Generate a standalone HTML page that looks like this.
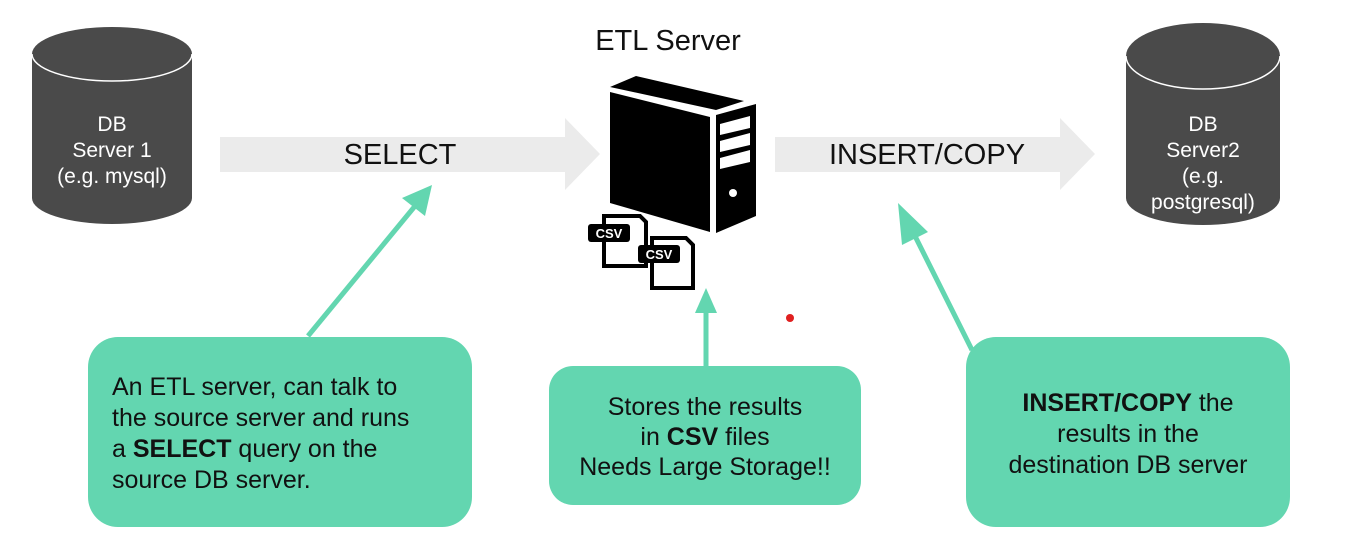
<!DOCTYPE html>
<html><head><meta charset="utf-8"><style>
html,body{margin:0;padding:0;background:#fff;}
svg{display:block;}
text{font-family:"Liberation Sans",sans-serif;}
</style></head><body>
<svg width="1348" height="556" viewBox="0 0 1348 556" xmlns="http://www.w3.org/2000/svg">
<!-- DB1 -->
<path d="M32 54 L32 198 A80 26 0 0 0 192 198 L192 54 Z" fill="#4a4a4a"/>
<ellipse cx="112" cy="54" rx="80" ry="27" fill="#4a4a4a"/>
<path d="M32 54 A80 27 0 0 0 192 54" fill="none" stroke="#fff" stroke-width="1.5"/>
<text x="112" y="131" font-size="21" fill="#fff" text-anchor="middle">DB</text>
<text x="112" y="157" font-size="21" fill="#fff" text-anchor="middle">Server 1</text>
<text x="112" y="183" font-size="21" fill="#fff" text-anchor="middle">(e.g. mysql)</text>
<!-- DB2 -->
<path d="M1126 56 L1126 198 A77 27 0 0 0 1280 198 L1280 56 Z" fill="#4a4a4a"/>
<ellipse cx="1203" cy="56" rx="77" ry="33" fill="#4a4a4a"/>
<path d="M1126 56 A77 33 0 0 0 1280 56" fill="none" stroke="#fff" stroke-width="1.5"/>
<text x="1203" y="131" font-size="21" fill="#fff" text-anchor="middle">DB</text>
<text x="1203" y="157" font-size="21" fill="#fff" text-anchor="middle">Server2</text>
<text x="1203" y="183" font-size="21" fill="#fff" text-anchor="middle">(e.g.</text>
<text x="1203" y="209" font-size="21" fill="#fff" text-anchor="middle">postgresql)</text>
<!-- gray arrows -->
<polygon points="220,137 565,137 565,118 600,154 565,190 565,172 220,172" fill="#ebebeb"/>
<text x="400" y="164" font-size="29" fill="#111" text-anchor="middle">SELECT</text>
<polygon points="775,137 1060,137 1060,118 1095,154 1060,190 1060,172 775,172" fill="#ebebeb"/>
<text x="927" y="164" font-size="29" fill="#111" text-anchor="middle">INSERT/COPY</text>
<text x="668" y="50" font-size="29" fill="#111" text-anchor="middle">ETL Server</text>
<!-- server -->
<polygon points="610,87 636,76 744,101 716,110" fill="#000"/>
<polygon points="610,92 710,117 710,232 610,203" fill="#000"/>
<polygon points="716,115 756,104 756,216 716,233" fill="#000"/>
<polygon points="720,124 750,116 750,128 720,135" fill="#fff"/>
<polygon points="720,141 750,133 750,145 720,152" fill="#fff"/>
<polygon points="720,158 750,150 750,162 720,169" fill="#fff"/>
<circle cx="733" cy="193" r="4" fill="#fff"/>
<!-- csv files -->
<path d="M604 216 L640 216 L646 222 L646 266 L604 266 Z" fill="#fff" stroke="#000" stroke-width="4"/>
<rect x="588" y="224" width="42" height="18" rx="3" fill="#000"/>
<text x="609" y="238" font-size="13" font-weight="bold" fill="#fff" text-anchor="middle">CSV</text>
<path d="M652 238 L686 238 L693 245 L693 288 L652 288 Z" fill="#fff" stroke="#000" stroke-width="4"/>
<rect x="638" y="245" width="42" height="18" rx="3" fill="#000"/>
<text x="659" y="259" font-size="13" font-weight="bold" fill="#fff" text-anchor="middle">CSV</text>
<circle cx="790" cy="318" r="4" fill="#e02020"/>
<!-- green arrows -->
<g stroke="#63d6b0" stroke-width="5" fill="#63d6b0">
<line x1="308" y1="336" x2="420" y2="200"/>
<line x1="706" y1="366" x2="706" y2="305"/>
<line x1="972" y1="350" x2="907" y2="220"/>
</g>
<g fill="#63d6b0">
<polygon points="432,185 425,216 402,198"/>
<polygon points="706,288 717,313 695,313"/>
<polygon points="898,203 928,232 902,245"/>
</g>
<!-- boxes -->
<rect x="88" y="337" width="384" height="190" rx="30" fill="#63d6b0"/>
<text font-size="25" fill="#111"><tspan x="112" y="395">An ETL server, can talk to</tspan><tspan x="112" y="426">the source server and runs</tspan><tspan x="112" y="457">a <tspan font-weight="bold">SELECT</tspan> query on the</tspan><tspan x="112" y="488">source DB server.</tspan></text>
<rect x="549" y="366" width="312" height="139" rx="24" fill="#63d6b0"/>
<text font-size="25" fill="#111" text-anchor="middle"><tspan x="705" y="415">Stores the results</tspan><tspan x="705" y="445">in <tspan font-weight="bold">CSV</tspan> files</tspan><tspan x="705" y="475">Needs Large Storage!!</tspan></text>
<rect x="966" y="337" width="324" height="190" rx="30" fill="#63d6b0"/>
<text font-size="25" fill="#111" text-anchor="middle"><tspan x="1128" y="411"><tspan font-weight="bold">INSERT/COPY</tspan> the</tspan><tspan x="1128" y="442">results in the</tspan><tspan x="1128" y="473">destination DB server</tspan></text>
</svg>
</body></html>
